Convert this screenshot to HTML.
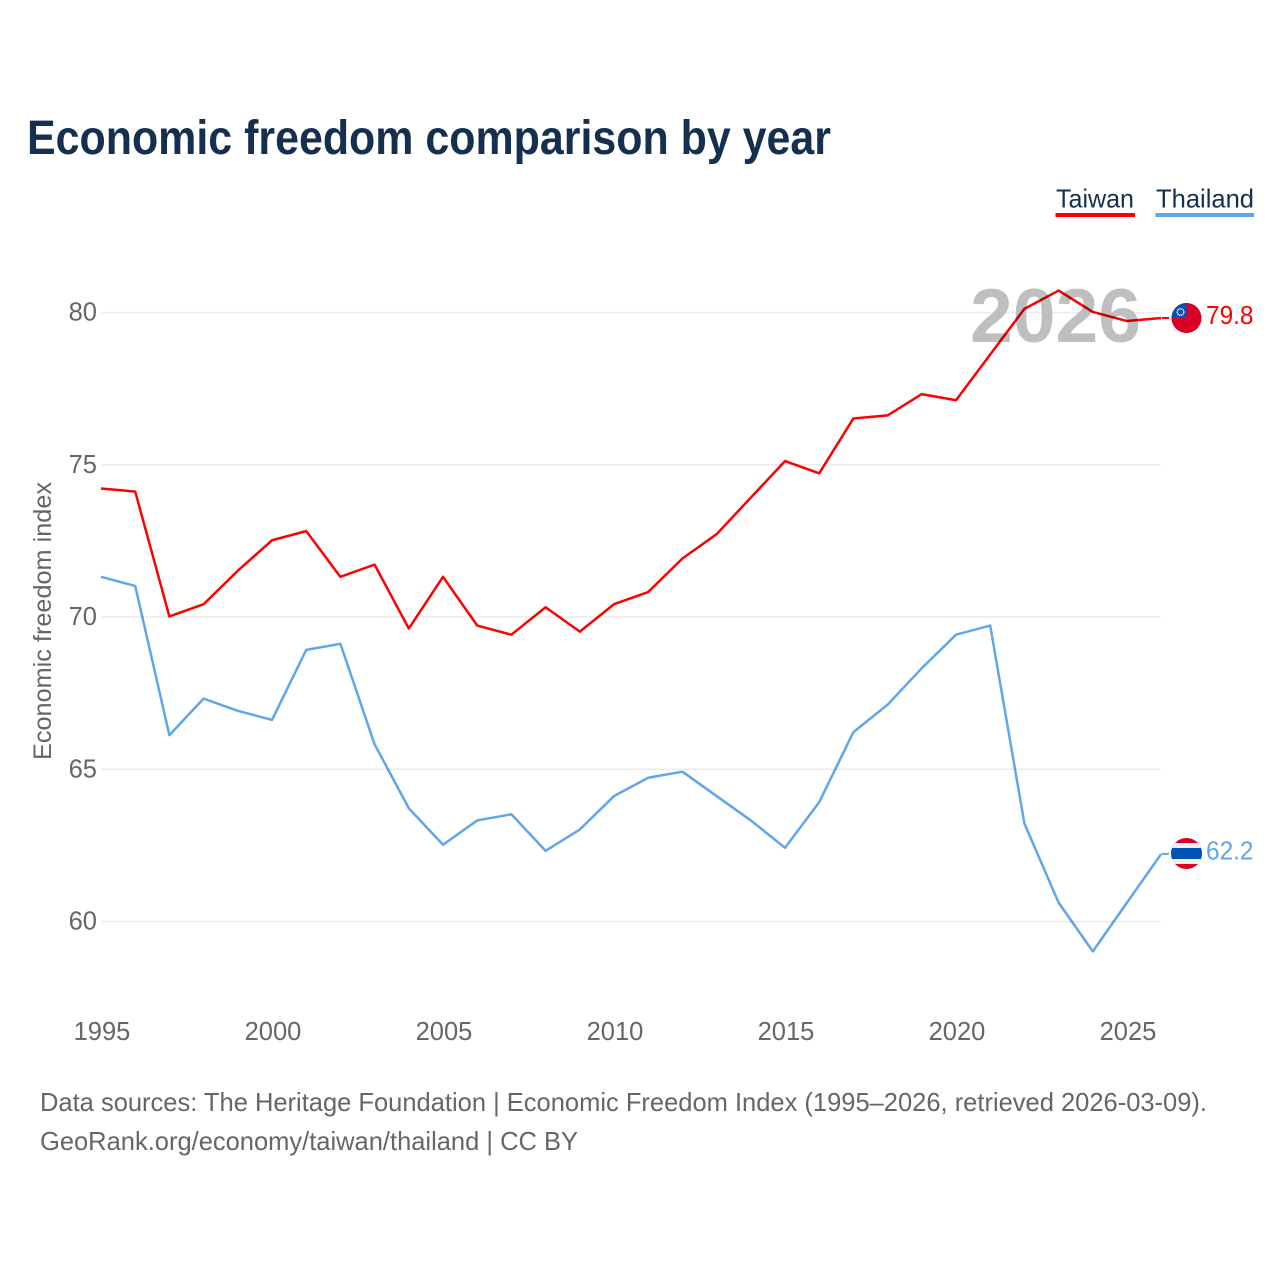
<!DOCTYPE html>
<html lang="en">
<head>
<meta charset="utf-8">
<title>Economic freedom comparison by year</title>
<style>
html,body{margin:0;padding:0;background:#fff;width:1280px;height:1280px;overflow:hidden}
svg{display:block}
text{font-family:"Liberation Sans",sans-serif}
.tick{font-size:25.5px;fill:#666}
.foot{font-size:26px;fill:#666}
.series{fill:none;stroke-width:2.5;stroke-linejoin:round;mix-blend-mode:multiply}
</style>
</head>
<body>
<svg id="chart" width="1280" height="1280" viewBox="0 0 1280 1280" xmlns="http://www.w3.org/2000/svg">
  <defs>
    <clipPath id="clip-taiwan"><circle cx="1186.500" cy="318" r="15"></circle></clipPath>
    <clipPath id="clip-thailand"><circle cx="1186.500" cy="853.500" r="15.500"></circle></clipPath>
  </defs>
  <rect width="1280" height="1280" fill="#fff"></rect>
  <text x="27" y="154" font-size="48" font-weight="700" fill="#15304f" textLength="804" lengthAdjust="spacingAndGlyphs">Economic freedom comparison by year</text>

  <g>
    <text x="1056" y="207.500" font-size="26" fill="#15304f" textLength="78" lengthAdjust="spacingAndGlyphs">Taiwan</text>
    <rect x="1055.500" y="213" width="79.500" height="4" fill="#ff0000"></rect>
  </g>
  <g>
    <text x="1156" y="207.500" font-size="26" fill="#15304f" textLength="98" lengthAdjust="spacingAndGlyphs">Thailand</text>
    <rect x="1155.500" y="213" width="98.500" height="4" fill="#61a5ea"></rect>
  </g>

  <g id="grid"></g>
  <text x="970" y="342" font-size="76" font-weight="700" fill="#bfbfbf" textLength="171" lengthAdjust="spacingAndGlyphs">2026</text>
  <g id="y-ticks"></g>
  <g id="x-ticks"></g>
  <text transform="translate(51,621) rotate(-90)" text-anchor="middle" font-size="25" fill="#666" textLength="278" lengthAdjust="spacingAndGlyphs">Economic freedom index</text>

  <g id="series"></g>

  <g clip-path="url(#clip-taiwan)">
    <rect x="1170" y="302" width="32" height="32" fill="#d80027"></rect>
    <rect x="1170" y="302" width="16.500" height="16" fill="#0052b4"></rect>
    <circle cx="1180.500" cy="312" r="3.300" fill="none" stroke="#f0f0f0" stroke-width="1.500" stroke-dasharray="1.200 0.600"></circle>
  </g>
  <g clip-path="url(#clip-thailand)">
    <rect x="1170" y="838" width="32" height="32" fill="#d80027"></rect>
    <rect x="1170" y="843" width="32" height="21" fill="#f0f0f0"></rect>
    <rect x="1170" y="848" width="32" height="11" fill="#0052b4"></rect>
  </g>

  <text x="1206" y="324" font-size="25.500" fill="#ff0000" textLength="47.500" lengthAdjust="spacingAndGlyphs">79.8</text>
  <text x="1206" y="859.500" font-size="25.500" fill="#61a5ea" textLength="47.500" lengthAdjust="spacingAndGlyphs">62.2</text>

  <text class="foot" x="40" y="1111" textLength="1167" lengthAdjust="spacingAndGlyphs">Data sources: The Heritage Foundation | Economic Freedom Index (1995–2026, retrieved 2026-03-09).</text>
  <text class="foot" x="40" y="1150" textLength="538" lengthAdjust="spacingAndGlyphs">GeoRank.org/economy/taiwan/thailand | CC BY</text>
</svg>
<script>
const years = [1995,1996,1997,1998,1999,2000,2001,2002,2003,2004,2005,2006,2007,2008,2009,2010,2011,2012,2013,2014,2015,2016,2017,2018,2019,2020,2021,2022,2023,2024,2025,2026];
const taiwanValues = [74.2,74.1,70.0,70.4,71.5,72.5,72.8,71.3,71.7,69.6,71.3,69.7,69.4,70.3,69.5,70.4,70.8,71.9,72.7,73.9,75.1,74.7,76.5,76.6,77.3,77.1,78.6,80.1,80.7,80.0,79.7,79.8];
const thailandValues = [71.3,71.0,66.1,67.3,66.9,66.6,68.9,69.1,65.8,63.7,62.5,63.3,63.5,62.3,63.0,64.1,64.7,64.9,64.1,63.3,62.4,63.9,66.2,67.1,68.3,69.4,69.7,63.2,60.6,59.0,60.6,62.2];
const yTickLabels = [60,65,70,75,80];
const xTickLabels = [1995,2000,2005,2010,2015,2020,2025];

const NS = 'http://www.w3.org/2000/svg';
const xScale = function (year) { return 101 + (year - 1995) * 34.2; };
const yScale = function (value) { return 312.5 + (80 - value) * (921.5 - 312.5) / (80 - 60); };
const make = function (tag, parent) {
  const el = document.createElementNS(NS, tag);
  parent.appendChild(el);
  return el;
};

const grid = document.getElementById('grid');
const yTicks = document.getElementById('y-ticks');
const xTicks = document.getElementById('x-ticks');
const seriesGroup = document.getElementById('series');

yTickLabels.forEach(function (tick) {
  const line = make('line', grid);
  
  
  line.setAttribute('x1', 102);
  line.setAttribute('x2', 1161);
  line.setAttribute('y1', yScale(tick));
  line.setAttribute('y2', yScale(tick));
  line.setAttribute('stroke', '#ebebeb');
  line.setAttribute('stroke-width', '1.500');

  const label = make('text', yTicks);
  
  
  label.setAttribute('class', 'tick');
  label.setAttribute('x', 97);
  label.setAttribute('y', yScale(tick) + 8);
  label.setAttribute('text-anchor', 'end');
  label.textContent = tick;
});

xTickLabels.forEach(function (tick) {
  const label = make('text', xTicks);
  
  
  label.setAttribute('class', 'tick');
  label.setAttribute('x', xScale(tick) + 1);
  label.setAttribute('y', 1040);
  label.setAttribute('text-anchor', 'middle');
  label.textContent = tick;
});

const drawSeries = function (name, values, colour) {
  const points = values.map(function (v, i) {
    return xScale(years[i]).toFixed(2) + ',' + (yScale(v) - 0.6).toFixed(2);
  }).join(' ');
  const line = make('polyline', seriesGroup);
  
  
  line.setAttribute('class', 'series');
  line.setAttribute('points', points);
  line.setAttribute('stroke', colour);

  const lastY = yScale(values[values.length - 1]);
  const connector = make('line', seriesGroup);
  
  
  connector.setAttribute('x1', 1162);
  connector.setAttribute('x2', 1169);
  connector.setAttribute('y1', lastY - 0.6);
  connector.setAttribute('y2', lastY - 0.6);
  connector.setAttribute('stroke', colour);
  connector.setAttribute('stroke-width', '2');
};

drawSeries('taiwan', taiwanValues, '#ff0000');
drawSeries('thailand', thailandValues, '#61a5ea');
</script>
</body>
</html>
